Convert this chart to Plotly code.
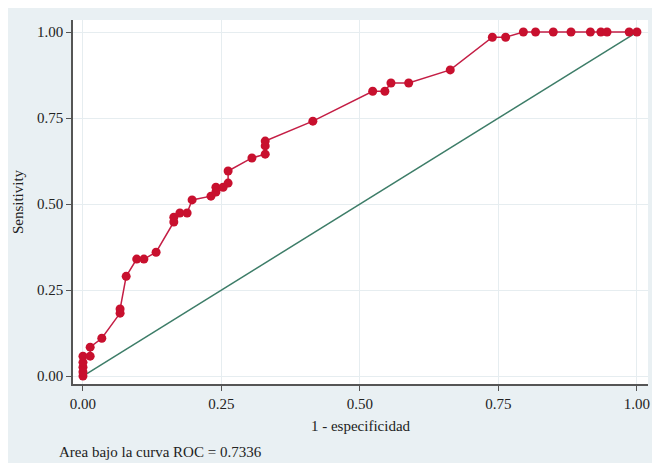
import plotly.graph_objects as go

fpr = [0.0, 0.0, 0.0, 0.0, 0.0, 0.013, 0.013, 0.034, 0.067, 0.067, 0.078, 0.097, 0.11, 0.132,
       0.164, 0.164, 0.175, 0.188, 0.197, 0.231, 0.24, 0.24, 0.253, 0.262, 0.262, 0.305,
       0.329, 0.329, 0.329, 0.415, 0.523, 0.545, 0.556, 0.588, 0.663, 0.739, 0.763,
       0.795, 0.817, 0.849, 0.881, 0.916, 0.935, 0.946, 0.986, 1.0]
tpr = [0.0, 0.012, 0.026, 0.04, 0.058, 0.058, 0.084, 0.11, 0.183, 0.195, 0.29, 0.34, 0.34, 0.36,
       0.448, 0.462, 0.474, 0.474, 0.512, 0.523, 0.535, 0.549, 0.549, 0.561, 0.596, 0.634,
       0.645, 0.669, 0.683, 0.741, 0.828, 0.828, 0.852, 0.852, 0.89, 0.985, 0.985,
       1.0, 1.0, 1.0, 1.0, 1.0, 1.0, 1.0, 1.0, 1.0]
ref_x = [0, 1]
ref_y = [0, 1]
ticks = [0, 0.25, 0.5, 0.75, 1.0]
tick_labels = ["0.00", "0.25", "0.50", "0.75", "1.00"]
auc_text = "Area bajo la curva ROC = 0.7336"

font_family = "Liberation Serif, Times New Roman, serif"

fig = go.Figure()
fig.add_trace(go.Scatter(x=ref_x, y=ref_y, mode="lines",
                         line=dict(color="#3d7d68", width=1.5), showlegend=False))
fig.add_trace(go.Scatter(x=fpr, y=tpr, mode="lines+markers",
                         line=dict(color="#c41e45", width=1.5),
                         marker=dict(color="#c8102e", size=9),
                         showlegend=False))

fig.update_layout(
    width=660, height=463,
    margin=dict(l=65, r=20, t=12, b=87),
    paper_bgcolor="#e9f0f3",
    plot_bgcolor="white",
    font=dict(family=font_family, size=15, color="#222"),
    xaxis=dict(range=[-0.018, 1.02], tickvals=ticks, ticktext=tick_labels,
               showgrid=True, gridcolor="#e6edf0", gridwidth=1, zeroline=False,
               showline=True, linecolor="#555", linewidth=1.5, automargin=False,
               ticks="outside", ticklen=5, tickcolor="#555",
               title=dict(text="1 - especificidad", standoff=10, font=dict(size=15))),
    yaxis=dict(range=[-0.023, 1.035], tickvals=ticks, ticktext=tick_labels,
               showgrid=True, gridcolor="#e6edf0", gridwidth=1, zeroline=False,
               showline=True, linecolor="#555", linewidth=1.5, automargin=False,
               ticks="outside", ticklen=5, tickcolor="#555",
               title=dict(text="Sensitivity", standoff=10, font=dict(size=15))),
    annotations=[dict(text=auc_text, xref="paper", yref="paper",
                      x=-0.028, y=-0.187, xanchor="left", yanchor="middle",
                      showarrow=False, font=dict(size=15))],
)

fig.write_html("out.html")
